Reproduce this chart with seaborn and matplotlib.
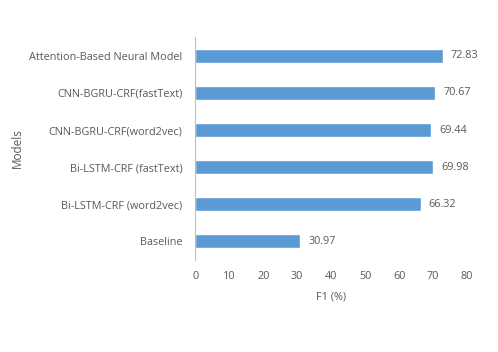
import numpy as np
import pandas as pd
import matplotlib
matplotlib.use("Agg")
import matplotlib.pyplot as plt
import seaborn as sns

models = ["Attention-Based Neural Model", "CNN-BGRU-CRF(fastText)", "CNN-BGRU-CRF(word2vec)",
          "Bi-LSTM-CRF (fastText)", "Bi-LSTM-CRF (word2vec)", "Baseline"]
f1 = [72.83, 70.67, 69.44, 69.98, 66.32, 30.97]
xticks = [0, 10, 20, 30, 40, 50, 60, 70, 80]

df = pd.DataFrame({"Models": models, "F1": f1})

sns.set_style("white")
plt.rcParams['font.family'] = ['Open Sans', 'DejaVu Sans']
text_color = "#595959"

fig = plt.figure(figsize=(4.98, 3.52), dpi=100)
ax = fig.add_axes([0.392, 0.262, 0.546, 0.632])
sns.barplot(data=df, x="F1", y="Models", color="#5B9BD5", width=0.37, ax=ax, saturation=1)

for i, v in enumerate(f1):
    ax.text(v + 2.4, i, f"{v:.2f}", va="center", ha="left", fontsize=7.8, color=text_color)

ax.set_xlim(0, 80)
ax.set_xticks(xticks)
ax.set_ylim(5.5, -0.5)
ax.tick_params(axis="x", length=0, labelsize=7.8, colors=text_color, pad=8)
ax.tick_params(axis="y", which="major", length=0, labelsize=7.8, colors=text_color, pad=9)
ax.set_yticks(np.arange(-0.5, 6, 1), minor=True)
ax.tick_params(axis="y", which="minor", length=4, color="#BFBFBF", width=0.8)
ax.set_xlabel("F1 (%)", fontsize=7.8, color=text_color, labelpad=7)
ax.set_ylabel("Models", fontsize=8.5, color=text_color)
ax.yaxis.set_label_coords(-0.63, 0.5)

for s in ["top", "right", "bottom"]:
    ax.spines[s].set_visible(False)
ax.spines["left"].set_color("#BFBFBF")
ax.spines["left"].set_linewidth(0.8)

fig.savefig("out.png", dpi=100)
